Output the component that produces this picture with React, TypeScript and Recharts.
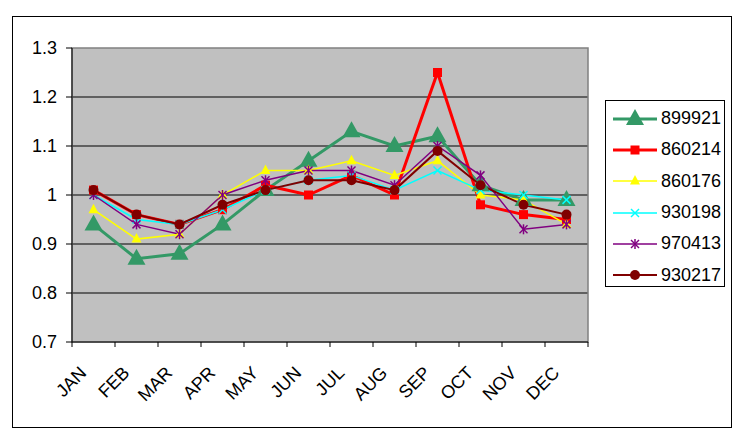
import React from 'react';
import { LineChart, Line, XAxis, YAxis, CartesianGrid, Legend, ReferenceArea } from 'recharts';

const months = ['JAN', 'FEB', 'MAR', 'APR', 'MAY', 'JUN', 'JUL', 'AUG', 'SEP', 'OCT', 'NOV', 'DEC'];

const s899921 = [0.94, 0.87, 0.88, 0.94, 1.01, 1.07, 1.13, 1.1, 1.12, 1.02, 0.99, 0.99];
const s860214 = [1.01, 0.96, 0.94, 0.97, 1.02, 1.0, 1.04, 1.0, 1.25, 0.98, 0.96, 0.95];
const s860176 = [0.97, 0.91, 0.92, 1.0, 1.05, 1.05, 1.07, 1.04, 1.07, 1.0, 0.99, 0.94];
const s930198 = [1.0, 0.95, 0.94, 0.97, 1.01, 1.03, 1.04, 1.01, 1.05, 1.01, 1.0, 0.99];
const s970413 = [1.0, 0.94, 0.92, 1.0, 1.03, 1.05, 1.05, 1.02, 1.1, 1.04, 0.93, 0.94];
const s930217 = [1.01, 0.96, 0.94, 0.98, 1.01, 1.03, 1.03, 1.01, 1.09, 1.02, 0.98, 0.96];

const yTicks = [0.7, 0.8, 0.9, 1.0, 1.1, 1.2, 1.3];

type Marker = 'bigTriangle' | 'square' | 'triangle' | 'cross' | 'star' | 'circle';

const series: { key: string; values: number[]; color: string; width: number; marker: Marker }[] = [
  { key: '899921', values: s899921, color: '#339966', width: 3, marker: 'bigTriangle' },
  { key: '860214', values: s860214, color: '#FF0000', width: 3, marker: 'square' },
  { key: '860176', values: s860176, color: '#FFFF00', width: 1.5, marker: 'triangle' },
  { key: '930198', values: s930198, color: '#00FFFF', width: 1.5, marker: 'cross' },
  { key: '970413', values: s970413, color: '#800080', width: 1.5, marker: 'star' },
  { key: '930217', values: s930217, color: '#800000', width: 2, marker: 'circle' },
];

const data = months.map((m, i) => {
  const row: Record<string, string | number> = { month: m };
  series.forEach((s) => (row[s.key] = s.values[i]));
  return row;
});

const CHART_W = 724;
const CHART_H = 424;
const MARGIN = { top: 40, right: 144, bottom: 30, left: 0 };
const Y_W = 64;
const HALF_BAND = (CHART_W - MARGIN.right - Y_W) / months.length / 2;

function markerShape(type: Marker, cx: number, cy: number, color: string) {
  switch (type) {
    case 'bigTriangle':
      return <polygon points={`${cx},${cy - 10} ${cx - 9},${cy + 6} ${cx + 9},${cy + 6}`} fill={color} />;
    case 'triangle':
      return <polygon points={`${cx},${cy - 6} ${cx - 5},${cy + 3.5} ${cx + 5},${cy + 3.5}`} fill={color} />;
    case 'square':
      return <rect x={cx - 4.5} y={cy - 4.5} width={9} height={9} fill={color} />;
    case 'cross':
      return (
        <g stroke={color} strokeWidth={1.5}>
          <line x1={cx - 4} y1={cy - 4} x2={cx + 4} y2={cy + 4} />
          <line x1={cx - 4} y1={cy + 4} x2={cx + 4} y2={cy - 4} />
        </g>
      );
    case 'star':
      return (
        <g stroke={color} strokeWidth={1.5}>
          <line x1={cx - 4} y1={cy - 4} x2={cx + 4} y2={cy + 4} />
          <line x1={cx - 4} y1={cy + 4} x2={cx + 4} y2={cy - 4} />
          <line x1={cx} y1={cy - 5} x2={cx} y2={cy + 5} />
        </g>
      );
    default:
      return <circle cx={cx} cy={cy} r={5} fill={color} />;
  }
}

const MonthTick = (props: any) => {
  const { x, y, payload, index } = props;
  const tx = x - 6;
  const ty = y + 32;
  return (
    <g>
      <line x1={x - HALF_BAND} y1={y} x2={x - HALF_BAND} y2={y + 5} stroke="#000" />
      {index === months.length - 1 && (
        <line x1={x + HALF_BAND} y1={y} x2={x + HALF_BAND} y2={y + 5} stroke="#000" />
      )}
      <text x={tx} y={ty} textAnchor="end" fontSize={18} fill="#000" transform={`rotate(-45, ${tx}, ${ty})`}>
        {payload.value}
      </text>
    </g>
  );
};

const LegendBox = () => (
  <div style={{ border: '1px solid #000', background: '#fff', width: 120, height: 187, padding: '2px 0', boxSizing: 'border-box' }}>
    {series.map((s) => (
      <div key={s.key} style={{ display: 'flex', alignItems: 'center', height: 31.3 }}>
        <svg width={50} height={22} style={{ marginLeft: 5 }}>
          <line x1={2} y1={11} x2={46} y2={11} stroke={s.color} strokeWidth={s.width} />
          {markerShape(s.marker, 24, 11, s.color)}
        </svg>
        <span style={{ fontSize: 18, color: '#000' }}>{s.key}</span>
      </div>
    ))}
  </div>
);

export default function App() {
  return (
    <div style={{ position: 'relative', width: CHART_W, height: CHART_H, fontFamily: 'Arial, "Liberation Sans", sans-serif' }}>
      <div style={{ position: 'absolute', left: 4, top: 8, width: 720, height: 412, border: '1px solid #000', boxSizing: 'border-box' }} />
      <LineChart width={CHART_W} height={CHART_H} data={data} margin={MARGIN} style={{ position: 'absolute', left: 0, top: 0 }}>
        <CartesianGrid vertical={false} stroke="#000" fill="#C0C0C0" horizontalValues={[0.8, 0.9, 1.0, 1.1, 1.2]} />
        <ReferenceArea x1="JAN" x2="DEC" y1={0.7} y2={1.3} fill="none" stroke="#808080" strokeWidth={1.5} />
        <XAxis
          dataKey="month"
          scale="band"
          interval={0}
          height={60}
          tickLine={false}
          tickSize={0}
          tickMargin={0}
          axisLine={{ stroke: '#000' }}
          tick={<MonthTick />}
        />
        <YAxis
          width={Y_W}
          domain={[0.7, 1.3]}
          ticks={yTicks}
          allowDataOverflow
          tickSize={6}
          tickMargin={9}
          axisLine={{ stroke: '#000' }}
          tickLine={{ stroke: '#000' }}
          tick={{ fontSize: 18, fill: '#000' }}
          tickFormatter={(v: number) => String(Math.round(v * 10) / 10)}
        />
        <Legend
          layout="vertical"
          align="center"
          verticalAlign="middle"
          wrapperStyle={{ left: 597, top: 92, width: 122 }}
          content={() => <LegendBox />}
        />
        {series.map((s) => (
          <Line
            key={s.key}
            dataKey={s.key}
            stroke={s.color}
            strokeWidth={s.width}
            isAnimationActive={false}
            dot={(p: any) => <g key={`${s.key}-${p.index}`}>{markerShape(s.marker, p.cx, p.cy, s.color)}</g>}
            activeDot={false}
          />
        ))}
      </LineChart>
    </div>
  );
}
